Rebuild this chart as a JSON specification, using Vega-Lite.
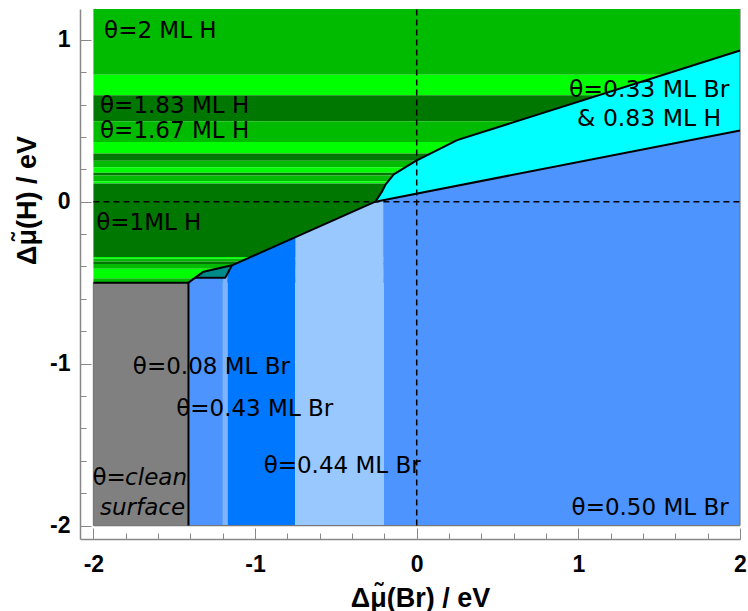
{
  "$schema": "https://vega.github.io/schema/vega-lite/v6.json",
  "width": 660,
  "height": 530,
  "autosize": {"type": "none"},
  "padding": {"left": 80, "top": 9, "right": 8, "bottom": 72},
  "background": "white",
  "config": {"view": {"stroke": null}},
  "layer": [
    {
      "encoding": {
        "x": {
          "field": "x", "type": "quantitative",
          "scale": {"domain": [-2.083, 2], "nice": false, "zero": false},
          "axis": {
            "orient": "bottom", "values": [-2, -1, 0, 1, 2], "grid": false,
            "labelExpr": "datum.value < 0 ? '-' + abs(datum.value) : '' + datum.value",
            "tickSize": -11, "tickColor": "#888888", "tickWidth": 1,
            "domainColor": "#888888", "domainWidth": 1.5,
            "labelFont": "Liberation Sans", "labelFontSize": 23, "labelFontWeight": "bold", "labelColor": "black",
            "labelPadding": 25, "labelFlush": false, "labelOverlap": false,
            "title": "Δμ̃(Br) / eV", "titleFont": "Liberation Sans", "titleFontSize": 27, "titleFontWeight": "bold", "titleColor": "black",
            "titleX": 340, "titleY": 59, "titleBaseline": "middle", "titleAlign": "center"
          }
        },
        "y": {
          "field": "y", "type": "quantitative", "stack": null,
          "scale": {"domain": [-2.083, 1.19], "nice": false, "zero": false},
          "axis": {
            "orient": "left", "values": [-2, -1, 0, 1], "grid": false,
            "labelExpr": "datum.value < 0 ? '-' + abs(datum.value) : '' + datum.value",
            "tickSize": -11, "tickColor": "#888888", "tickWidth": 1,
            "domainColor": "#888888", "domainWidth": 1.5,
            "labelFont": "Liberation Sans", "labelFontSize": 23, "labelFontWeight": "bold", "labelColor": "black",
            "labelPadding": 21, "labelFlush": false, "labelOverlap": false,
            "title": "Δμ̃(H) / eV", "titleFont": "Liberation Sans", "titleFontSize": 27, "titleFontWeight": "bold", "titleColor": "black",
            "titleX": -53, "titleY": 191, "titleBaseline": "middle", "titleAlign": "center", "titleAngle": -90
          }
        }
      },
      "layer": [
        {
          "data": {"values": [
            {"x": -2, "x2": 2, "y": 0.784, "y2": 1.19, "phase": "M"},
            {"x": -2, "x2": 2, "y": 0.658, "y2": 0.784, "phase": "B"},
            {"x": -2, "x2": 2, "y": 0.4975, "y2": 0.658, "phase": "D"},
            {"x": -2, "x2": 2, "y": 0.368, "y2": 0.4975, "phase": "M"},
            {"x": -2, "x2": 2, "y": 0.298, "y2": 0.368, "phase": "B"},
            {"x": -2, "x2": 2, "y": 0.253, "y2": 0.298, "phase": "D"},
            {"x": -2, "x2": 2, "y": 0.212, "y2": 0.253, "phase": "M"},
            {"x": -2, "x2": 2, "y": 0.179, "y2": 0.212, "phase": "B"},
            {"x": -2, "x2": 2, "y": 0.162, "y2": 0.179, "phase": "D"},
            {"x": -2, "x2": 2, "y": 0.127, "y2": 0.162, "phase": "M"},
            {"x": -2, "x2": 2, "y": 0.113, "y2": 0.127, "phase": "B"},
            {"x": -2, "x2": 2, "y": -0.342, "y2": 0.113, "phase": "D"},
            {"x": -2, "x2": 2, "y": -0.352, "y2": -0.342, "phase": "B"},
            {"x": -2, "x2": 2, "y": -0.369, "y2": -0.352, "phase": "M"},
            {"x": -2, "x2": 2, "y": -0.385, "y2": -0.369, "phase": "D"},
            {"x": -2, "x2": 2, "y": -0.414, "y2": -0.385, "phase": "M"},
            {"x": -2, "x2": 2, "y": -0.472, "y2": -0.414, "phase": "B"},
            {"x": -2, "x2": 2, "y": -0.5, "y2": -0.472, "phase": "M"},
            {"x": -2, "x2": -1.412, "y": -2, "y2": -0.5, "phase": "clean"}
          ]},
          "mark": {"type": "rect"},
          "encoding": {
            "x2": {"field": "x2"},
            "y2": {"field": "y2"},
            "color": {"field": "phase", "type": "nominal", "legend": null,
              "scale": {"domain": ["M", "B", "D", "clean", "Br008", "thin", "Br043", "Br044", "Br050", "mix", "teal"],
                        "range": ["#00bb00", "#00ff00", "#007700", "#808080", "#4d94ff", "#7fb3ff", "#0077ff", "#99c8ff", "#4d94ff", "#00ffff", "#008b8b"]}}
          }
        },
        {
          "data": {"values": [
            {"x": -1.412, "y": -0.5, "y2": -2, "phase": "Br008"},
            {"x": -1.370, "y": -0.469, "y2": -2, "phase": "Br008"},
            {"x": -1.199, "y": -0.469, "y2": -2, "phase": "Br008"},
            {"x": -1.199, "y": -0.469, "y2": -2, "phase": "thin"},
            {"x": -1.184, "y": -0.469, "y2": -2, "phase": "thin"},
            {"x": -1.170, "y": -0.443, "y2": -2, "phase": "thin"},
            {"x": -1.170, "y": -0.443, "y2": -2, "phase": "Br043"},
            {"x": -1.143, "y": -0.393, "y2": -2, "phase": "Br043"},
            {"x": -0.751, "y": -0.219, "y2": -2, "phase": "Br043"},
            {"x": -0.751, "y": -0.219, "y2": -2, "phase": "Br044"},
            {"x": -0.256, "y": 0.0, "y2": -2, "phase": "Br044"},
            {"x": -0.204, "y": 0.010, "y2": -2, "phase": "Br044"},
            {"x": -0.204, "y": 0.010, "y2": -2, "phase": "Br050"},
            {"x": 2, "y": 0.44, "y2": -2, "phase": "Br050"},
            {"x": -0.256, "y": 0.0, "y2": 0.0, "phase": "mix"},
            {"x": -0.213, "y": 0.065, "y2": 0.0084, "phase": "mix"},
            {"x": -0.192, "y": 0.107, "y2": 0.0125, "phase": "mix"},
            {"x": -0.142, "y": 0.169, "y2": 0.0222, "phase": "mix"},
            {"x": -0.008, "y": 0.251, "y2": 0.0484, "phase": "mix"},
            {"x": 0.25, "y": 0.38, "y2": 0.0987, "phase": "mix"},
            {"x": 2, "y": 0.934, "y2": 0.44, "phase": "mix"},
            {"x": -1.370, "y": -0.469, "y2": -0.469, "phase": "teal"},
            {"x": -1.319, "y": -0.432, "y2": -0.469, "phase": "teal"},
            {"x": -1.184, "y": -0.402, "y2": -0.469, "phase": "teal"},
            {"x": -1.143, "y": -0.393, "y2": -0.393, "phase": "teal"}
          ]},
          "mark": {"type": "area", "interpolate": "linear"},
          "encoding": {
            "y2": {"field": "y2"},
            "color": {"field": "phase", "type": "nominal", "legend": null}
          }
        },
        {
          "data": {"values": [
            {"x": -2, "y": -2, "x2": -2, "y2": -0.5},
            {"x": -2, "y": -2, "x2": 2, "y2": -2},
            {"x": 2, "y": -2, "x2": 2, "y2": 1.19}
          ]},
          "mark": {"type": "rule", "color": "#777777", "strokeWidth": 1.2},
          "encoding": {"x2": {"field": "x2"}, "y2": {"field": "y2"}}
        },
        {
          "data": {"values": [
            {"seg": "gray", "ord": 1, "x": -2, "y": -0.5},
            {"seg": "gray", "ord": 2, "x": -1.412, "y": -0.5},
            {"seg": "gray", "ord": 3, "x": -1.412, "y": -2},
            {"seg": "main", "ord": 1, "x": -1.412, "y": -0.5},
            {"seg": "main", "ord": 2, "x": -1.319, "y": -0.432},
            {"seg": "main", "ord": 3, "x": -1.143, "y": -0.393},
            {"seg": "main", "ord": 4, "x": -0.256, "y": 0.0},
            {"seg": "main", "ord": 5, "x": -0.213, "y": 0.065},
            {"seg": "main", "ord": 6, "x": -0.192, "y": 0.107},
            {"seg": "main", "ord": 7, "x": -0.142, "y": 0.169},
            {"seg": "main", "ord": 8, "x": -0.008, "y": 0.251},
            {"seg": "main", "ord": 9, "x": 0.25, "y": 0.38},
            {"seg": "main", "ord": 10, "x": 2, "y": 0.934},
            {"seg": "low", "ord": 1, "x": -0.256, "y": 0.0},
            {"seg": "low", "ord": 2, "x": 2, "y": 0.44},
            {"seg": "teal", "ord": 1, "x": -1.370, "y": -0.469},
            {"seg": "teal", "ord": 2, "x": -1.184, "y": -0.469},
            {"seg": "teal", "ord": 3, "x": -1.143, "y": -0.393}
          ]},
          "mark": {"type": "line", "color": "black", "strokeWidth": 2, "strokeJoin": "round"},
          "encoding": {
            "detail": {"field": "seg", "type": "nominal"},
            "order": {"field": "ord", "type": "quantitative"}
          }
        },
        {
          "data": {"values": [
            {"x": 0, "y": -2, "x2": 0, "y2": 1.19},
            {"x": -2, "y": 0, "x2": 2, "y2": 0}
          ]},
          "mark": {"type": "rule", "color": "black", "strokeWidth": 1.5, "strokeDash": [6, 4]},
          "encoding": {"x2": {"field": "x2"}, "y2": {"field": "y2"}}
        },
        {
          "data": {"values": [
            {"x": -1.934, "y": 1.053, "label": "θ=2 ML H"},
            {"x": -1.959, "y": 0.590, "label": "θ=1.83 ML H"},
            {"x": -1.959, "y": 0.436, "label": "θ=1.67 ML H"},
            {"x": -1.983, "y": -0.130, "label": "θ=1ML H"},
            {"x": -1.756, "y": -1.019, "label": "θ=0.08 ML Br"},
            {"x": -1.488, "y": -1.278, "label": "θ=0.43 ML Br"},
            {"x": -0.947, "y": -1.632, "label": "θ=0.44 ML Br"},
            {"x": 0.958, "y": -1.889, "label": "θ=0.50 ML Br"},
            {"x": -2.006, "y": -1.708, "label": "θ="}
          ]},
          "mark": {"type": "text", "align": "left", "baseline": "middle", "font": "DejaVu Sans", "fontSize": 23, "color": "black"},
          "encoding": {"text": {"field": "label"}}
        },
        {
          "data": {"values": [
            {"x": 1.438, "y": 0.689, "label": "θ=0.33 ML Br"},
            {"x": 1.438, "y": 0.508, "label": "& 0.83 ML H"}
          ]},
          "mark": {"type": "text", "align": "center", "baseline": "middle", "font": "DejaVu Sans", "fontSize": 23.5, "color": "black"},
          "encoding": {"text": {"field": "label"}}
        },
        {
          "data": {"values": [
            {"x": -1.804, "y": -1.708, "label": "clean"},
            {"x": -1.959, "y": -1.889, "label": "surface"}
          ]},
          "mark": {"type": "text", "align": "left", "baseline": "middle", "font": "DejaVu Sans", "fontSize": 23, "fontStyle": "italic", "color": "black"},
          "encoding": {"text": {"field": "label"}}
        }
      ]
    },
    {
      "data": {"values": [{"x": 0, "y": 0}]},
      "mark": {"type": "point", "opacity": 0},
      "encoding": {
        "x": {
          "field": "x", "type": "quantitative",
          "scale": {"domain": [-2.083, 2], "nice": false, "zero": false},
          "axis": {"orient": "bottom", "values": [-2, -1.8, -1.6, -1.4, -1.2, -1, -0.8, -0.6, -0.4, -0.2, 0, 0.2, 0.4, 0.6, 0.8, 1, 1.2, 1.4, 1.6, 1.8, 2],
                   "tickSize": -6, "tickColor": "#888888", "labels": false, "domain": false, "grid": false, "title": null}
        },
        "y": {
          "field": "y", "type": "quantitative",
          "scale": {"domain": [-2.083, 1.19], "nice": false, "zero": false},
          "axis": {"orient": "left", "values": [-2, -1.8, -1.6, -1.4, -1.2, -1, -0.8, -0.6, -0.4, -0.2, 0, 0.2, 0.4, 0.6, 0.8, 1],
                   "tickSize": -6, "tickColor": "#888888", "labels": false, "domain": false, "grid": false, "title": null}
        }
      }
    }
  ],
  "resolve": {"axis": {"x": "independent", "y": "independent"}}
}
